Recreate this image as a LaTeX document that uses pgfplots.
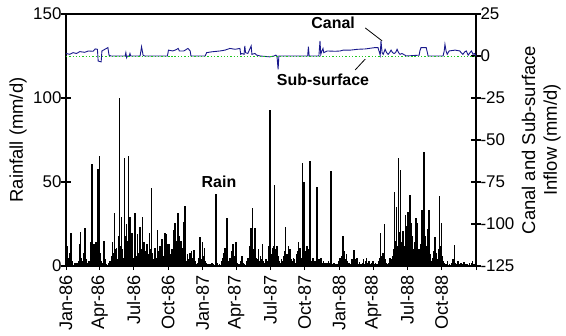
\documentclass[border=0pt]{standalone}
\usepackage{fontspec}
\setmainfont{Liberation Sans}
\usepackage{pgfplots}
\pgfplotsset{compat=1.18}
\usetikzlibrary{calc}
\definecolor{canal}{RGB}{25,25,140}
\definecolor{subs}{RGB}{30,200,30}
\newcommand{\tickfont}{\fontsize{17}{20}\selectfont}
\newcommand{\xtickfont}{\fontsize{18.2}{21}\selectfont}
\newcommand{\labfont}{\fontsize{18.5}{22}\selectfont}

\pgfplotstableread{
day rain
1 50
2 30
4 12
7 5
10 8
13 19.6
15 6
18 3
24 2
29 1.5
33 3
37 13
39 20.4
41 5
44 3
48 8
51 22.6
53 4
57 2
62 3
66 14
70 60.7
72 12
75 13
78 12
80 14
83 11
85 57.5
87 20
90 65.5
92 8
95 3
98 2
102 15
104 4
108 1
113 2
118 3
121 6
124 14
127 8
129 31.7
131 10
133 6
135 11
138 4
140 18
143 99.8
145 12
147 6
149 29
151 10
153 5
156 64
158 18
160 12
162 25
165 15
167 65.5
169 20
171 29
173 14
176 19.6
178 8
181 5
184 31.3
186 12
188 6
191 19
193 8
196 6
198 23
200 10
202 5
204 29
206 12
209 14
212 5
214 9
216 13
218 4
221 7
223 19.6
225 10
227 6
229 46.6
231 8
234 4
236 6
238 11
241 5
245 21.5
247 9
249 5
251 12
254 7
257 16
259 6
262 4
265 19.6
267 19
269 6
271 9
273 13
275 13
278 4
281 7
284 10
287 21.4
289 12
291 25.8
293 8
296 15
298 10
300 31.3
302 18
304 9
307 14.7
309 6
312 11
314 26.4
316 10
318 35.7
320 6
322 3
325 7
328 4
332 8
334 5
336 9
339 5
342 9.5
345 3
348 1
352 2
355 5
358 17.5
360 7
362 4
365 14.5
367 6
370 11
373 3
376 2
380 1
385 1
390 2
394 1
401 42.7
404 2
410 1
415 3
418 5
421 8
423 4
425 11
428 7
430 28.4
432 6
435 3
438 5
441 2
444 9
447 13
449 4
451 6
454 14
456 5
459 2
463 1
467 3
470 6
473 2
477 1
482 3
486 5
490 8
492 12
494 22.4
496 13
498 34.3
500 10
502 6
505 22.4
507 8
509 5
511 4
514 10
517 3
520 6
522 4
525 13
528 3
531 2
535 4
538 3
541 5
543 12
545 92.9
548 3
550 7
552 5
554 11
556 12
557 48
559 10
561 4
564 12
567 6
570 3
573 2
576 4
578 3
581 6
584 9
587 23.4
589 5
591 7
593 4
595 12
597 6
599 10
602 4
605 3
608 5
611 4
614 2
617 7
619 9
621 14
623 6
625 11
627 8
629 5
632 61.1
634 20
636 50.2
638 13
640 9
642 7
644 12
646 8
648 4
650 10
652 62.7
654 6
657 3
660 5
663 2
666 3
669 8
671 47.2
673 4
676 2
679 4
682 5
685 2
688 3
692 2
695 1
698 2
702 3
705 2
708 56.7
710 3
713 1
717 2
720 1
724 1
728 3
732 5
735 3
738 6
741 17.9
743 5
745 9
747 4
750 7
753 3
756 2
760 1
764 4
767 3
770 9.5
772 4
775 2
778 5
781 1
784 2.5
788 1
792 2
795 4
798 1
801 3
803 5
806 2
810 3
813 1
816 2
820 3
824 1
828 2
832 1
836 3
839 5
841 19.8
843 6
846 3
848 8
851 25
853 4
856 2
860 1
863 2
866 5
868 3
871 4
873 6
875 10
878 44.2
880 15
882 8
884 34.9
886 12
889 64.1
891 20
894 57.1
896 14
899 10
901 21
903 6
905 12
908 30.4
910 16
912 24
914 32.3
916 10
919 42.3
921 12
924 25.4
926 18
928 10
930 6
932 14
935 28.4
937 9
939 25.4
941 6
943 10
945 4
948 13
950 8
952 33.3
954 10
957 68
959 18
961 17
963 12
965 8
968 22
971 33.3
973 6
975 7
977 3
980 5
983 9
986 17
988 5
990 8
993 4
996 10
998 41.7
1000 7
1002 12
1004 25.4
1006 6
1008 3
1012 2
1016 1
1020 3
1025 1
1030 2
1035 4
1038 12.3
1040 2
1044 1
1048 3
1052 1
1056 2
1060 1
1064 2.5
1068 1
1072 1
1078 2
1084 2
1086 3
1090 1
}\raintable

\pgfplotstableread{
day canal
0 1.5
10 1
19 2
28 1.5
37 2.6
50 2.2
60 3
72 2.8
78 4.2
84 4
86 -3
94 -3.5
96 3
104 4
112 5
115 0.5
120 0
158 0
160 2
162 -1
164 0
169 0
171 1.5
173 0
198 0
202 5.5
206 0.5
210 0
271 0
274 3.5
285 3
292 3.5
300 4.5
303 3
315 3
326 4.5
332 3
334 0
372 0
376 2
390 2.5
412 3
425 3.5
438 4.5
452 4
465 4.5
467 1
470 1.5
476 1
478 6
480 2
486 1.5
495 6
497 1
505 1.5
510 0.5
519 0
545 -0.5
556 0
561 0.5
564 0
567 -8
569 0
646 0
648 5.5
650 0
676 0
679 9
681 1
684 3
687 4.5
689 2
698 3
720 2.8
733 3
741 3.5
760 3.5
780 4
800 4.2
826 5
834 5
840 0.5
842 9
845 2
848 1
853 4
857 2
861 1
865 2
869 3.5
873 2
877 1.5
881 2
885 4
889 2
893 1
898 1.5
906 0.5
910 0
944 0.5
946 3
949 5
963 5
966 2
968 0
1008 0
1011 3
1013 7
1016 3
1019 1
1024 3
1040 3.5
1053 3
1056 2
1061 1
1066 2.5
1070 3
1075 0.5
1080 2
1084 3
1088 1
1092 1.5
1096 0
}\canaltable

\pgfplotstableread{
day sub
0 -0.4
274 -0.4
548 -0.4
822 -0.4
1096 -0.4
}\subtable

\begin{document}
\begin{tikzpicture}
% main axis: box, x ticks, rain bars
\begin{axis}[name=ax, scale only axis, width=410bp, height=252bp,
  xmin=0, xmax=1096, ymin=0, ymax=150,
  axis line style={line width=1.1pt},
  xtick={0,90,181,273,365,455,546,638,730,821,912,1004,1096},
  xticklabels={Jan-86,Apr-86,Jul-86,Oct-86,Jan-87,Apr-87,Jul-87,Oct-87,Jan-88,Apr-88,Jul-88,Oct-88,{}},
  minor x tick num=6,
  xtick pos=bottom, tick align=outside,
  major tick length=4bp, minor tick length=4bp,
  xtick style={black, line width=0.7pt},
  minor tick style={black, line width=0.7pt},
  ytick=\empty,
  x tick label style={rotate=90, anchor=east, font=\xtickfont},
  xticklabel shift=2bp,
  clip=false,
]
\addplot[ycomb, black, line width=1.5pt, mark=none] table[x=day, y=rain] {\raintable};
\node[font=\bfseries\fontsize{16}{19}\selectfont] at (axis cs:409,50) {Rain};
\end{axis}

% left y axis
\begin{axis}[scale only axis, width=410bp, height=252bp,
  xmin=0, xmax=1096, ymin=0, ymax=150,
  axis x line=none, axis y line*=left,
  axis line style={line width=1.1pt, -},
  ytick={0,50,100,150},
  tick align=center, major tick length=10bp,
  ytick style={black, line width=1.1pt},
  y tick label style={font=\tickfont},
  /pgf/number format/assume math mode=true,
  yticklabel shift=-4bp,
  ylabel={Rainfall (mm/d)},
  every axis y label/.style={at={(axis description cs:-0.117,0.5)}, rotate=90, anchor=center, font=\labfont},
]
\end{axis}

% right y axis: canal and sub-surface
\begin{axis}[scale only axis, width=410bp, height=252bp,
  xmin=0, xmax=1096, ymin=-125, ymax=25,
  axis x line=none, axis y line*=right,
  axis line style={line width=1.1pt, -},
  ytick={-125,-100,-75,-50,-25,0,25},
  tick align=center, major tick length=10bp,
  ytick style={black, line width=1.1pt},
  y tick label style={font=\tickfont},
  /pgf/number format/assume math mode=true,
  yticklabel shift=-4bp,
  ylabel={Canal and Sub-surface\\Inflow (mm/d)},
  every axis y label/.style={at={(axis description cs:1.159,0.5)}, rotate=90, anchor=center, align=center, font=\labfont},
  clip=false,
]
\addplot[canal, line width=0.9pt, mark=none] table[x=day, y=canal] {\canaltable};
\addplot[subs, dotted, line width=1.3pt, mark=none] table[x=day, y=sub] {\subtable};
\node[font=\bfseries\fontsize{16}{19}\selectfont] at (axis cs:714,19.6) {Canal};
\draw[black, line width=0.8pt] (axis cs:800,16.7) -- (axis cs:845,9);
\node[font=\bfseries\fontsize{16}{19}\selectfont] at (axis cs:687,-14.3) {Sub-surface};
\draw[black, line width=0.8pt] (axis cs:773,-8.3) -- (axis cs:800,-1.8);
\end{axis}

\pgfresetboundingbox
\path[use as bounding box] ($(ax.south west)+(-66bp,-70bp)$) rectangle ($(ax.north east)+(90bp,14bp)$);
\end{tikzpicture}
\end{document}
